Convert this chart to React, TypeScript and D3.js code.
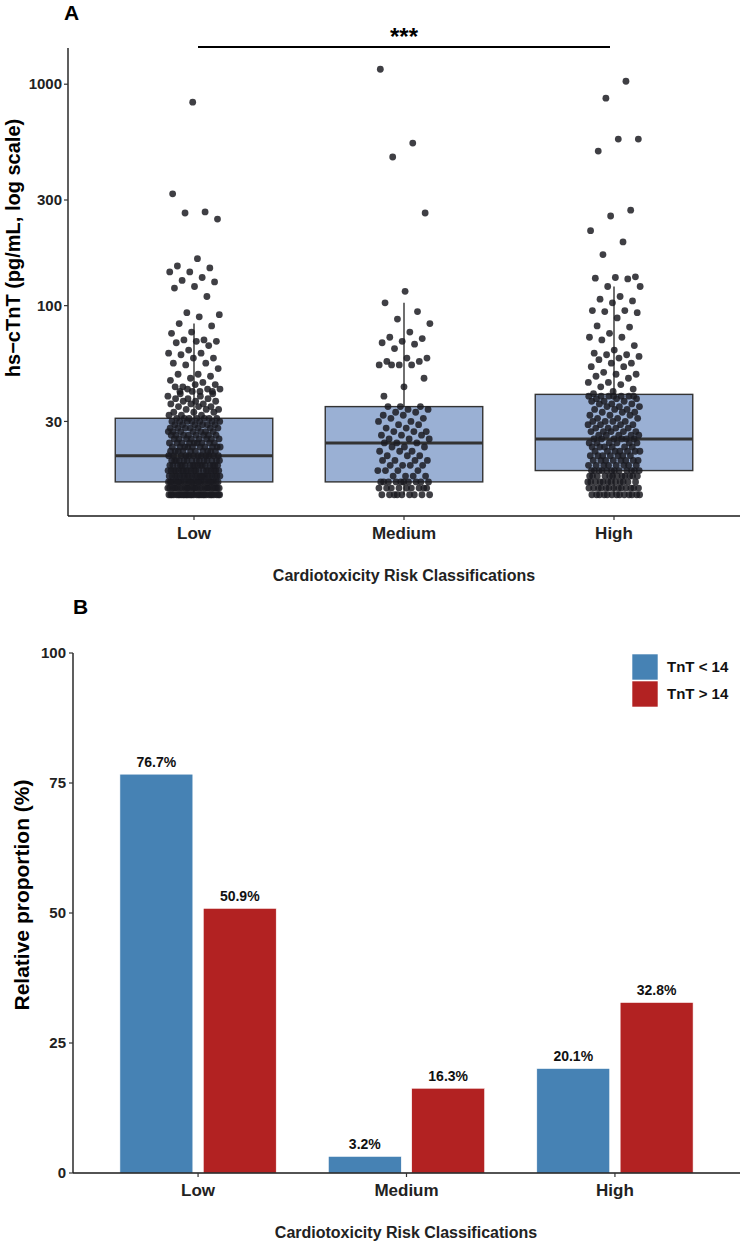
import React from "react";
import * as d3 from "d3";

// ---------- Panel A: hs-cTnT by cardiotoxicity risk class ----------
const categories = ["Low", "Medium", "High"];

// Dense lower range as [value (pg/mL), number of patients]
const lowCounts: [number, number][] = [
  [14, 30], [15, 27], [16, 26], [17, 22], [18, 20], [19, 17], [20, 14], [21, 12],
  [22, 10], [23, 10], [24, 9], [25, 8], [26, 8], [27, 7], [28, 7], [29, 6],
  [30, 7], [31, 7], [32, 3], [33, 3], [34, 3], [35, 3], [36, 3], [37, 3],
  [38, 3], [39, 2], [40, 2],
];
// Individual values above 40 pg/mL
const lowUpper = [
  830, 320, 265, 262, 246, 163, 151, 148, 142, 142, 134, 130, 128, 122, 120, 110,
  93, 91, 89, 83, 81, 76, 75, 70, 70, 69, 69, 68, 66, 63, 61, 61, 60, 58, 58, 55,
  55, 54, 52, 49, 49, 48, 47, 46, 45, 43, 44, 44, 43, 42, 42, 42, 41, 41, 41, 41,
];

const mediumCounts: [number, number][] = [
  [14, 9], [15, 9], [16, 10], [17, 4], [18, 4], [19, 4], [20, 4], [21, 3],
  [22, 3], [23, 3], [24, 3], [25, 3], [26, 3], [27, 3], [28, 2], [29, 2],
  [30, 2], [31, 2], [32, 2], [33, 2], [34, 2], [35, 3],
];
const mediumUpper = [
  1168, 542, 469, 262, 116, 103, 94, 87, 83, 76, 72, 71, 69, 68, 67, 64, 58, 58,
  56, 56, 54, 54, 54, 54, 47, 43, 39,
];

const highCounts: [number, number][] = [
  [14, 13], [15, 13], [16, 12], [17, 12], [18, 12], [19, 8], [20, 8], [21, 7],
  [22, 7], [23, 6], [24, 6], [25, 6], [26, 5], [27, 5], [28, 4], [29, 4],
  [30, 4], [31, 3], [32, 3], [33, 3], [34, 3], [35, 3], [36, 3], [37, 3],
  [38, 3], [39, 7], [40, 1],
];
const highUpper = [
  1031, 865, 565, 565, 499, 270, 254, 218, 194, 170, 135, 134, 133, 132, 122, 122,
  110, 107, 105, 103, 95, 95, 94, 93, 88, 81, 80, 75, 72, 72, 70, 66, 63, 61, 60,
  60, 59, 58, 57, 55, 55, 53, 53, 50, 49, 49, 48, 47, 45, 45, 44, 43, 42, 41,
];

const yTicksA = [30, 100, 300, 1000];

// ---------- Panel B: relative proportion by TnT group ----------
const tntGroups = ["TnT < 14", "TnT > 14"];
const tntBelow = [76.7, 3.2, 20.1];
const tntAbove = [50.9, 16.3, 32.8];
const yTicksB = [0, 25, 50, 75, 100];

const FONT = "'Liberation Sans', Arial, Helvetica, sans-serif";
const INK = "#1a1a1a";
const BOX_FILL = "#9ab0d4";
const BLUE = "#4682b4";
const RED = "#b22222";

function expand(counts: [number, number][], upper: number[]): number[] {
  const out: number[] = [];
  counts.forEach(([v, n]) => {
    for (let k = 0; k < n; k++) out.push(v);
  });
  return out.concat(upper);
}

const seriesA = [
  expand(lowCounts, lowUpper),
  expand(mediumCounts, mediumUpper),
  expand(highCounts, highUpper),
];

// Box statistics on the log10 scale (as the axis is transformed)
function boxStats(values: number[]) {
  const logs = values.map(Math.log10).sort(d3.ascending);
  const q1 = d3.quantileSorted(logs, 0.25)!;
  const med = d3.quantileSorted(logs, 0.5)!;
  const q3 = d3.quantileSorted(logs, 0.75)!;
  const iqr = q3 - q1;
  const hi = d3.max(logs.filter((l) => l <= q3 + 1.5 * iqr))!;
  const lo = d3.min(logs.filter((l) => l >= q1 - 1.5 * iqr))!;
  const p = (l: number) => Math.pow(10, l);
  return { q1: p(q1), med: p(med), q3: p(q3), hi: p(hi), lo: p(lo) };
}

// deterministic horizontal spread for overlapping points
const spread = (i: number) => ((i * 0.6180339887 + 0.37) % 1) - 0.5;

function PanelA() {
  const left = 68, right = 740, top = 48, bottom = 516;
  const all = seriesA.flat();
  const lmin = Math.log10(d3.min(all)!);
  const lmax = Math.log10(d3.max(all)!);
  const pad = (lmax - lmin) * 0.05;
  const y = d3.scaleLog().domain([Math.pow(10, lmin - pad), Math.pow(10, lmax + pad)]).range([bottom, top]);
  const x = d3.scalePoint<string>().domain(categories).range([left, right]).padding(0.6);
  const step = x.step();
  const boxW = step * 0.75;
  const jitterW = step * 0.125;

  return (
    <g>
      <text x={64} y={20} fontFamily={FONT} fontWeight="bold" fontSize={21} fill="#000">A</text>

      {/* boxes */}
      {seriesA.map((vals, ci) => {
        const s = boxStats(vals);
        const cx = x(categories[ci])!;
        return (
          <g key={"box" + ci}>
            <line x1={cx} x2={cx} y1={y(s.q3)} y2={y(s.hi)} stroke="#333" strokeWidth={1.4} />
            <line x1={cx} x2={cx} y1={y(s.q1)} y2={y(s.lo)} stroke="#333" strokeWidth={1.4} />
            <rect x={cx - boxW / 2} y={y(s.q3)} width={boxW} height={y(s.q1) - y(s.q3)}
              fill={BOX_FILL} stroke="#333" strokeWidth={1.4} />
            <line x1={cx - boxW / 2} x2={cx + boxW / 2} y1={y(s.med)} y2={y(s.med)} stroke="#333" strokeWidth={3} />
          </g>
        );
      })}

      {/* jittered points */}
      {seriesA.map((vals, ci) => {
        const cx = x(categories[ci])!;
        return (
          <g key={"pts" + ci}>
            {vals.map((v, i) => (
              <circle key={i} cx={cx + spread(i) * 2 * jitterW} cy={y(v)} r={3.4}
                fill="#1a1a20" fillOpacity={0.84} />
            ))}
          </g>
        );
      })}

      {/* axes */}
      <line x1={left} x2={left} y1={top} y2={bottom} stroke={INK} strokeWidth={1.4} />
      <line x1={left} x2={right} y1={bottom} y2={bottom} stroke={INK} strokeWidth={1.4} />
      {yTicksA.map((t) => (
        <g key={t}>
          <line x1={left - 4} x2={left} y1={y(t)} y2={y(t)} stroke="#333" strokeWidth={1.2} />
          <text x={left - 6} y={y(t)} dy="0.35em" textAnchor="end" fontFamily={FONT}
            fontWeight="bold" fontSize={15} fill="#222">{t}</text>
        </g>
      ))}
      {categories.map((c) => (
        <g key={c}>
          <line x1={x(c)} x2={x(c)} y1={bottom} y2={bottom + 4} stroke="#333" strokeWidth={1.2} />
          <text x={x(c)} y={bottom + 17} dy="0.35em" textAnchor="middle" fontFamily={FONT}
            fontWeight="bold" fontSize={17} fill="#222">{c}</text>
        </g>
      ))}
      <text x={404} y={575} dy="0.35em" textAnchor="middle" fontFamily={FONT} fontWeight="bold"
        fontSize={16} fill="#222">Cardiotoxicity Risk Classifications</text>
      <text transform={`translate(20,248) rotate(-90)`} textAnchor="middle" fontFamily={FONT}
        fontWeight="bold" fontSize={20} fill="#000">hs−cTnT (pg/mL, log scale)</text>

      {/* significance bracket Low vs High */}
      <line x1={198} x2={610} y1={47} y2={47} stroke="#000" strokeWidth={1.8} />
      <text x={404} y={45} textAnchor="middle" fontFamily={FONT} fontWeight="bold" fontSize={24} fill="#000">***</text>
    </g>
  );
}

function PanelB() {
  const left = 73, right = 740, top = 653, bottom = 1173;
  const x = d3.scalePoint<string>().domain(categories).range([left, right]).padding(0.6);
  const step = x.step();
  const y = d3.scaleLinear().domain([0, 100]).range([bottom, top]);
  const dodge = d3.scaleBand<string>().domain(tntGroups).range([-0.4 * step, 0.4 * step]);
  const barW = step * 0.35;
  const series = [tntBelow, tntAbove];
  const colors = [BLUE, RED];

  return (
    <g>
      <text x={73} y={614} fontFamily={FONT} fontWeight="bold" fontSize={21} fill="#000">B</text>

      {series.map((vals, gi) =>
        vals.map((v, ci) => {
          const cx = x(categories[ci])! + dodge(tntGroups[gi])! + dodge.bandwidth() / 2;
          return (
            <g key={gi + "-" + ci}>
              <rect x={cx - barW / 2} y={y(v)} width={barW} height={y(0) - y(v)}
                fill={colors[gi]} stroke="#fff" strokeWidth={0.6} />
              <text x={cx} y={y(v) - 7} textAnchor="middle" fontFamily={FONT} fontWeight="bold"
                fontSize={14} fill="#111">{v.toFixed(1)}%</text>
            </g>
          );
        })
      )}

      <line x1={left} x2={left} y1={top} y2={bottom} stroke={INK} strokeWidth={1.4} />
      <line x1={left} x2={right} y1={bottom} y2={bottom} stroke={INK} strokeWidth={1.4} />
      {yTicksB.map((t) => (
        <g key={t}>
          <line x1={left - 4} x2={left} y1={y(t)} y2={y(t)} stroke="#333" strokeWidth={1.2} />
          <text x={left - 7} y={y(t)} dy="0.35em" textAnchor="end" fontFamily={FONT}
            fontWeight="bold" fontSize={15} fill="#222">{t}</text>
        </g>
      ))}
      {categories.map((c) => (
        <g key={c}>
          <line x1={x(c)} x2={x(c)} y1={bottom} y2={bottom + 4} stroke="#333" strokeWidth={1.2} />
          <text x={x(c)} y={bottom + 17} dy="0.35em" textAnchor="middle" fontFamily={FONT}
            fontWeight="bold" fontSize={17} fill="#222">{c}</text>
        </g>
      ))}
      <text x={406} y={1232} dy="0.35em" textAnchor="middle" fontFamily={FONT} fontWeight="bold"
        fontSize={16} fill="#222">Cardiotoxicity Risk Classifications</text>
      <text transform={`translate(29,895) rotate(-90)`} textAnchor="middle" fontFamily={FONT}
        fontWeight="bold" fontSize={21} fill="#000">Relative proportion (%)</text>

      {/* legend */}
      {tntGroups.map((g, i) => (
        <g key={g} transform={`translate(632,${654 + i * 27})`}>
          <rect width={26} height={26} fill={colors[i]} stroke="#fff" strokeWidth={0.6} />
          <text x={35} y={13} dy="0.35em" fontFamily={FONT} fontWeight="bold" fontSize={15} fill="#111">{g}</text>
        </g>
      ))}
    </g>
  );
}

export default function App() {
  return (
    <svg width={744} height={1244} style={{ position: "absolute", left: 0, top: 0, background: "#fff" }}>
      <rect width={744} height={1244} fill="#fff" />
      <PanelA />
      <PanelB />
    </svg>
  );
}
